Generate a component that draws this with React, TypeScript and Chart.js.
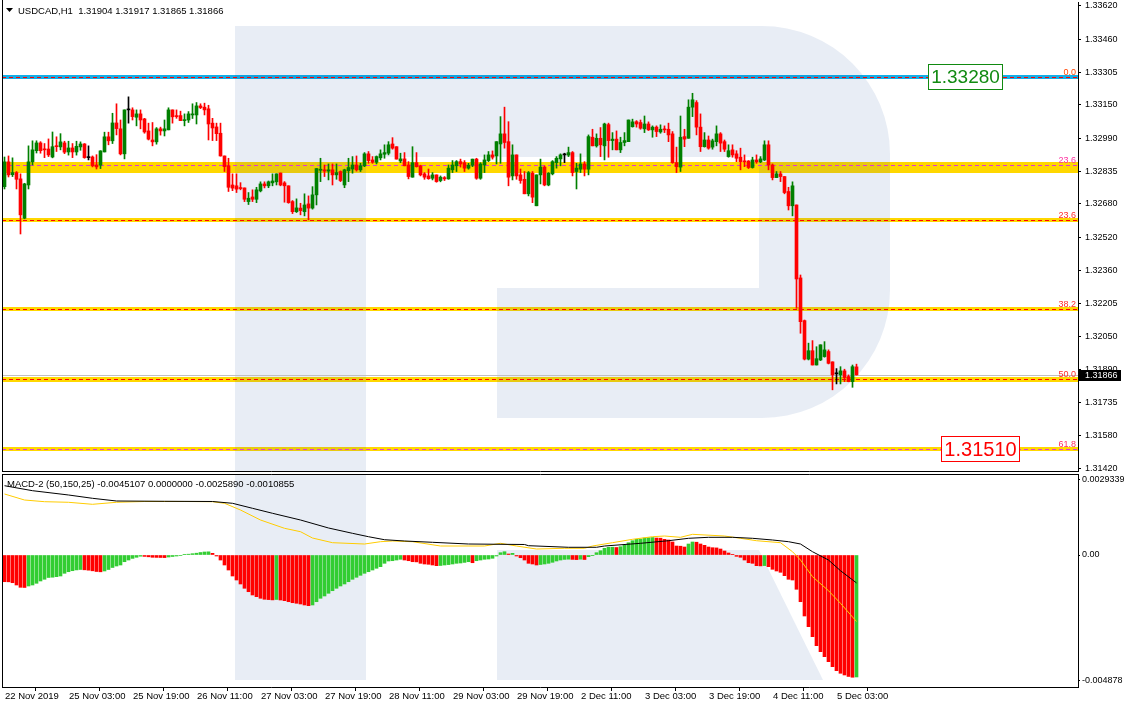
import React, { useEffect, useRef } from 'react';
import { Chart, registerables } from 'chart.js';

Chart.register(...registerables);

// ---------------- DATA ----------------
const symbolName = 'USDCAD,H1';

const opens = [
  1.32761,1.32879,1.32818,1.32828,1.32798,1.32611,1.32769,1.32879,1.32932,1.32969,
  1.32940,1.32940,1.32902,1.32955,1.32950,1.32969,1.32926,1.32945,1.32926,1.32950,
  1.32964,1.32899,1.32902,1.32864,1.32863,1.32926,1.32998,1.32979,1.33064,1.33036,
  1.32917,1.33126,1.33126,1.33091,1.33107,1.33083,1.33026,1.32983,1.32974,1.33036,
  1.33026,1.33031,1.33126,1.33097,1.33099,1.33075,1.33078,1.33102,1.33102,1.33145,
  1.33139,1.33131,1.33063,1.33045,1.33015,1.32907,1.32860,1.32769,1.32765,1.32755,
  1.32755,1.32690,1.32712,1.32701,1.32741,1.32774,1.32765,1.32779,1.32784,1.32826,
  1.32779,1.32765,1.32690,1.32642,1.32659,1.32642,1.32679,1.32659,1.32722,1.32839,
  1.32841,1.32835,1.32841,1.32817,1.32833,1.32769,1.32837,1.32845,1.32864,1.32841,
  1.32860,1.32917,1.32888,1.32877,1.32898,1.32915,1.32920,1.32964,1.32951,1.32883,
  1.32893,1.32864,1.32806,1.32875,1.32860,1.32822,1.32812,1.32801,1.32817,1.32790,
  1.32804,1.32798,1.32841,1.32860,1.32880,1.32875,1.32849,1.32863,1.32892,1.32801,
  1.32864,1.32885,1.32912,1.32907,1.32964,1.33012,1.32975,1.32812,1.32912,1.32817,
  1.32796,1.32727,1.32825,1.32670,1.32817,1.32854,1.32769,1.32822,1.32875,1.32893,
  1.32912,1.32911,1.32923,1.32833,1.32844,1.32869,1.32844,1.32996,1.32955,1.32991,
  1.32955,1.33056,1.32980,1.32987,1.32936,1.32971,1.32975,1.33046,1.33070,1.33066,
  1.33036,1.33059,1.33031,1.33044,1.33021,1.33034,1.33034,1.33012,1.32875,1.32854,
  1.32999,1.32991,1.33139,1.33161,1.33044,1.32951,1.32983,1.32949,1.32975,1.33012,
  1.32975,1.32904,1.32936,1.32917,1.32901,1.32883,1.32883,1.32852,1.32888,1.32879,
  1.32888,1.32960,1.32864,1.32804,1.32822,1.32809,1.32738,1.32670,1.32674,1.32327,
  1.32124,1.31941,1.31981,1.31913,1.31937,1.31953,1.31977,1.31928,1.31871,1.31866,
  1.31885,1.31858,1.31834,1.31904
];

const highs = [
  1.32902,1.32907,1.32898,1.32833,1.32822,1.32777,1.32955,1.32979,1.32979,1.32975,
  1.32966,1.32988,1.33021,1.32998,1.33013,1.32977,1.32977,1.32966,1.32977,1.32974,
  1.32966,1.32955,1.32907,1.32913,1.32932,1.33020,1.33020,1.33110,1.33155,1.33078,
  1.33126,1.33188,1.33136,1.33126,1.33126,1.33086,1.33063,1.33066,1.33042,1.33044,
  1.33078,1.33136,1.33126,1.33126,1.33120,1.33107,1.33118,1.33155,1.33161,1.33155,
  1.33158,1.33148,1.33086,1.33063,1.33063,1.32907,1.32896,1.32822,1.32822,1.32780,
  1.32755,1.32733,1.32746,1.32758,1.32784,1.32784,1.32788,1.32822,1.32822,1.32826,
  1.32785,1.32765,1.32695,1.32703,1.32682,1.32727,1.32717,1.32761,1.32847,1.32896,
  1.32864,1.32869,1.32869,1.32869,1.32836,1.32844,1.32896,1.32904,1.32907,1.32872,
  1.32923,1.32928,1.32904,1.32907,1.32936,1.32960,1.32975,1.32994,1.32951,1.32920,
  1.32923,1.32880,1.32951,1.32923,1.32863,1.32828,1.32845,1.32828,1.32817,1.32812,
  1.32809,1.32864,1.32885,1.32885,1.32892,1.32885,1.32872,1.32892,1.32896,1.32875,
  1.32912,1.32928,1.32931,1.32975,1.33094,1.33139,1.33070,1.32960,1.32912,1.32845,
  1.32833,1.32833,1.32833,1.32817,1.32892,1.32860,1.32828,1.32885,1.32904,1.32917,
  1.32920,1.32949,1.32928,1.32872,1.32917,1.32880,1.33007,1.33034,1.33012,1.33042,
  1.33063,1.33063,1.33018,1.33026,1.32996,1.33018,1.33078,1.33082,1.33075,1.33078,
  1.33097,1.33069,1.33050,1.33050,1.33055,1.33050,1.33063,1.33023,1.32949,1.33097,
  1.33034,1.33174,1.33205,1.33170,1.33107,1.33018,1.33002,1.32987,1.33050,1.33018,
  1.32983,1.32960,1.32960,1.32932,1.32944,1.32912,1.32885,1.32901,1.32912,1.32904,
  1.32979,1.32979,1.32869,1.32833,1.32833,1.32809,1.32758,1.32784,1.32674,1.32341,
  1.32127,1.32017,1.32029,1.32000,1.32009,1.32024,1.31985,1.31928,1.31896,1.31905,
  1.31893,1.31866,1.31913,1.31917
];

const lows = [
  1.32750,1.32807,1.32809,1.32750,1.32536,1.32608,1.32750,1.32864,1.32921,1.32920,
  1.32899,1.32904,1.32898,1.32928,1.32936,1.32918,1.32911,1.32899,1.32911,1.32934,
  1.32896,1.32888,1.32855,1.32845,1.32847,1.32926,1.32960,1.32966,1.33007,1.32912,
  1.32893,1.33063,1.33078,1.33050,1.33036,1.33015,1.32983,1.32955,1.32963,1.33006,
  1.33002,1.33031,1.33063,1.33086,1.33075,1.33050,1.33066,1.33085,1.33059,1.33132,
  1.33102,1.32983,1.32980,1.32980,1.32906,1.32833,1.32738,1.32742,1.32733,1.32746,
  1.32690,1.32676,1.32690,1.32685,1.32736,1.32755,1.32756,1.32765,1.32769,1.32765,
  1.32687,1.32682,1.32633,1.32638,1.32627,1.32622,1.32603,1.32654,1.32674,1.32785,
  1.32809,1.32793,1.32769,1.32796,1.32785,1.32756,1.32785,1.32825,1.32835,1.32833,
  1.32856,1.32872,1.32872,1.32869,1.32888,1.32896,1.32912,1.32939,1.32892,1.32875,
  1.32860,1.32798,1.32806,1.32854,1.32812,1.32796,1.32796,1.32793,1.32782,1.32784,
  1.32790,1.32796,1.32828,1.32833,1.32854,1.32833,1.32844,1.32856,1.32796,1.32796,
  1.32828,1.32880,1.32892,1.32869,1.32872,1.32944,1.32765,1.32793,1.32796,1.32777,
  1.32727,1.32717,1.32685,1.32670,1.32774,1.32765,1.32765,1.32817,1.32849,1.32860,
  1.32875,1.32904,1.32812,1.32750,1.32828,1.32812,1.32817,1.32955,1.32949,1.32904,
  1.32888,1.32901,1.32936,1.32936,1.32923,1.32955,1.32975,1.33044,1.33044,1.33034,
  1.33018,1.33028,1.32996,1.32999,1.33015,1.33018,1.32975,1.32872,1.32828,1.32833,
  1.32951,1.32991,1.33094,1.33007,1.32928,1.32949,1.32939,1.32939,1.32955,1.32928,
  1.32928,1.32901,1.32901,1.32880,1.32841,1.32856,1.32847,1.32849,1.32872,1.32875,
  1.32885,1.32841,1.32793,1.32804,1.32785,1.32727,1.32650,1.32622,1.32183,1.32064,
  1.31937,1.31937,1.31913,1.31913,1.31934,1.31950,1.31918,1.31795,1.31823,1.31823,
  1.31834,1.31833,1.31807,1.31865
];

const closes = [
  1.32879,1.32817,1.32828,1.32796,1.32627,1.32774,1.32879,1.32936,1.32969,1.32932,
  1.32936,1.32912,1.32951,1.32951,1.32974,1.32925,1.32945,1.32926,1.32953,1.32964,
  1.32899,1.32899,1.32860,1.32855,1.32931,1.32998,1.32979,1.33064,1.33037,1.32917,
  1.33126,1.33126,1.33094,1.33107,1.33078,1.33021,1.32987,1.32974,1.33036,1.33026,
  1.33036,1.33126,1.33093,1.33094,1.33075,1.33078,1.33107,1.33107,1.33145,1.33137,
  1.33126,1.33059,1.33040,1.33013,1.32907,1.32856,1.32758,1.32754,1.32749,1.32752,
  1.32701,1.32706,1.32701,1.32746,1.32774,1.32765,1.32784,1.32788,1.32822,1.32769,
  1.32765,1.32685,1.32642,1.32660,1.32647,1.32674,1.32659,1.32722,1.32847,1.32844,
  1.32835,1.32841,1.32817,1.32828,1.32790,1.32841,1.32852,1.32864,1.32841,1.32860,
  1.32917,1.32885,1.32877,1.32904,1.32917,1.32923,1.32960,1.32944,1.32892,1.32893,
  1.32860,1.32809,1.32875,1.32856,1.32817,1.32806,1.32799,1.32817,1.32785,1.32806,
  1.32798,1.32849,1.32864,1.32880,1.32869,1.32849,1.32863,1.32892,1.32801,1.32869,
  1.32888,1.32912,1.32901,1.32975,1.33012,1.32971,1.32806,1.32912,1.32812,1.32790,
  1.32727,1.32828,1.32711,1.32817,1.32854,1.32769,1.32825,1.32880,1.32896,1.32912,
  1.32912,1.32923,1.32828,1.32849,1.32869,1.32844,1.32999,1.32955,1.32991,1.32960,
  1.33059,1.32980,1.32987,1.32936,1.32971,1.32980,1.33078,1.33069,1.33059,1.33039,
  1.33059,1.33031,1.33044,1.33023,1.33034,1.33031,1.33007,1.32875,1.32856,1.32996,
  1.32987,1.33139,1.33174,1.33044,1.32951,1.32983,1.32944,1.32979,1.33012,1.32968,
  1.32939,1.32932,1.32912,1.32896,1.32880,1.32879,1.32852,1.32888,1.32879,1.32893,
  1.32960,1.32864,1.32804,1.32822,1.32809,1.32733,1.32670,1.32765,1.32322,1.32119,
  1.31941,1.31981,1.31913,1.31943,1.32009,1.31985,1.31921,1.31866,1.31871,1.31885,
  1.31853,1.31834,1.31905,1.31866
];

const timeTickBars = [0, 16, 32, 48, 64, 80, 96, 112, 128, 144, 160, 176, 192, 208];
const timeTickLabels = [
  '22 Nov 2019', '25 Nov 03:00', '25 Nov 19:00', '26 Nov 11:00', '27 Nov 03:00',
  '27 Nov 19:00', '28 Nov 11:00', '29 Nov 03:00', '29 Nov 19:00', '2 Dec 11:00',
  '3 Dec 03:00', '3 Dec 19:00', '4 Dec 11:00', '5 Dec 03:00'
];

const priceTicks = [1.3362, 1.3346, 1.33305, 1.3315, 1.3299, 1.32835, 1.3268, 1.3252,
  1.3236, 1.32205, 1.3205, 1.3189, 1.31735, 1.3158, 1.3142];

const fiboLevels = [1.33281, 1.32863, 1.32603, 1.32181, 1.31845, 1.31513];
const fiboNames = ['0.0', '23.6', '23.6', '38.2', '50.0', '61.8'];
const upperZone = [1.32879, 1.32828];
const levelTags = ['1.33280', '', '', '', '', '1.31510'];

const macdHist = [
  -0.001039,-0.001043,-0.001078,-0.001167,-0.001257,-0.001264,-0.001206,-0.001167,-0.001101,-0.001011,
  -0.000945,-0.000875,-0.000864,-0.000844,-0.000817,-0.000712,-0.00065,-0.000611,-0.00058,-0.000564,
  -0.000576,-0.000591,-0.000615,-0.000642,-0.000654,-0.000622,-0.000564,-0.000486,-0.000428,-0.000389,
  -0.000261,-0.000195,-0.000132,-0.000089,-0.000047,-0.000054,-0.00007,-0.000089,-0.000093,-0.000097,
  -0.000101,-0.000078,-0.000058,-0.000039,-0.000016,0.000012,0.000031,0.000051,0.00007,0.000097,
  0.000117,0.000124,0.000066,-0.000039,-0.000195,-0.000389,-0.000584,-0.000817,-0.000973,-0.001128,
  -0.001295,-0.001428,-0.001556,-0.001622,-0.001684,-0.001723,-0.001735,-0.001747,-0.001731,-0.001751,
  -0.001778,-0.001817,-0.001856,-0.001879,-0.001906,-0.001945,-0.001972,-0.001945,-0.001817,-0.001684,
  -0.001595,-0.00149,-0.001389,-0.001295,-0.001206,-0.001128,-0.001039,-0.000945,-0.000867,-0.00079,
  -0.000712,-0.00065,-0.000584,-0.000517,-0.000455,-0.000323,-0.000233,-0.000222,-0.000195,-0.000167,
  -0.000195,-0.000222,-0.000261,-0.000268,-0.000323,-0.00035,-0.000362,-0.000389,-0.000416,-0.000408,
  -0.000389,-0.000373,-0.00035,-0.000323,-0.000311,-0.000288,-0.000261,-0.0003,-0.000222,-0.000195,
  -0.000167,-0.000156,-0.000128,-0.000039,0.000089,0.000128,0.000039,0.000066,-0.000039,-0.000105,
  -0.000195,-0.000323,-0.00035,-0.000389,-0.00037,-0.00035,-0.000323,-0.000284,-0.000233,-0.000195,
  -0.000171,-0.000163,-0.000171,-0.000179,-0.000163,-0.000175,-0.000066,-0.000012,0.000089,0.000167,
  0.000261,0.0003,0.000303,0.000292,0.000323,0.000389,0.000478,0.000556,0.000611,0.000622,
  0.000661,0.000673,0.000681,0.000661,0.000654,0.000611,0.000584,0.000506,0.00035,0.000342,
  0.000311,0.000428,0.000506,0.000498,0.000428,0.000377,0.000311,0.000284,0.000276,0.000233,
  0.000156,0.000078,0.000012,-0.000051,-0.000089,-0.000195,-0.0003,-0.000323,-0.000416,-0.000424,
  -0.000412,-0.000455,-0.000556,-0.000622,-0.000673,-0.000805,-0.000945,-0.000973,-0.001334,-0.001817,
  -0.002373,-0.002789,-0.003178,-0.003528,-0.003762,-0.003956,-0.004151,-0.004345,-0.004501,-0.004602,
  -0.004668,-0.004726,-0.004757,-0.004746
];

const macdMainBars = [0, 7, 16, 22, 28, 40, 52, 57, 62, 67, 74, 81, 87, 91, 95, 100, 107, 116, 130, 131,
  141, 148, 150, 159, 166, 171, 176, 182, 187, 192, 196, 199, 202, 206, 209, 213];
const macdMain = [0.002696, 0.002502, 0.002335, 0.002206, 0.002101, 0.00209, 0.002082, 0.002012, 0.001817,
  0.001623, 0.001362, 0.001051, 0.000844, 0.000712, 0.000595, 0.000545, 0.000494, 0.000428, 0.000409,
  0.000362, 0.0003, 0.0003, 0.00035, 0.000455, 0.000556, 0.00065, 0.000689, 0.000689, 0.00065, 0.000584,
  0.000518, 0.000428, 0.000128, -0.000195, -0.000611, -0.001086];

const macdSignalBars = [0, 5, 10, 16, 22, 28, 35, 45, 52, 55, 59, 64, 70, 74, 77, 82, 90, 94, 97, 102, 109,
  120, 124, 128, 133, 140, 145, 147, 152, 157, 162, 165, 169, 172, 180, 184, 188, 194, 197, 199, 202, 206, 209, 213];
const macdSignal = [0.002374, 0.00214, 0.002074, 0.002051, 0.001973, 0.002051, 0.002082, 0.002082, 0.002074,
  0.002012, 0.001751, 0.001362, 0.001039, 0.000907, 0.000661, 0.000479, 0.000428, 0.000518, 0.000545,
  0.000518, 0.00035, 0.00035, 0.000455, 0.00035, 0.000233, 0.000261, 0.000261, 0.00035, 0.000479, 0.000611,
  0.000712, 0.000739, 0.000689, 0.000805, 0.000739, 0.00065, 0.000556, 0.000479, 0.000128, -0.000195,
  -0.000844, -0.001389, -0.00188, -0.002589];

const macdTicks = [0.0029339, 0, -0.004878];
const macdTickLabels = ['0.0029339', '0.00', '-0.004878'];
const macdName = 'MACD-2 (50,150,25)';
const macdTitleValues = ['-0.0045107', '0.0000000', '-0.0025890', '-0.0010855'];

// ---------------- STYLE ----------------
const FONT = "'Liberation Sans', Arial, sans-serif";
const BULL = '#008000';
const BEAR = '#ff0000';
const DOJI = '#000000';
const HIST_UP = '#32cd32';
const HIST_DOWN = '#ff0000';
const levelLineColors = ['#ff0000', '#e03ad0', '#ff0000', '#ff0000', '#ff0000', '#e03ad0'];
const levelTextColors = ['#ff4500', '#ff2fa0', '#ff2a2a', '#ff2a2a', '#ff2a2a', '#ff2a60'];
const levelBandColors = ['#14ade6', '#ffd700', '#ffd700', '#ffd700', '#ffd700', '#ffd700'];
const levelBandWidths = [4, 0, 4, 4, 5, 4];
const tagColors = ['#118a11', '', '', '', '', '#ff0000'];
const tagRight = [1003, 0, 0, 0, 0, 1020];
const tagFontSize = [19, 0, 0, 0, 0, 20];

const X_MIN = -0.625;
const X_MAX = 268.375;
const TICK_SHIFT = -0.375;
const MAIN_H = 473;
const MACD_H = 235;

function drawLogo(ctx: CanvasRenderingContext2D, top: number) {
  ctx.save();
  ctx.fillStyle = 'rgba(25,75,155,0.1)';
  ctx.fillRect(235, 26 - top, 131, 654);
  ctx.beginPath();
  ctx.moveTo(366, 26 - top);
  ctx.lineTo(762, 26 - top);
  ctx.arcTo(890, 26 - top, 890, 154 - top, 128);
  ctx.lineTo(890, 290 - top);
  ctx.arcTo(890, 418 - top, 762, 418 - top, 128);
  ctx.lineTo(497, 418 - top);
  ctx.lineTo(497, 288 - top);
  ctx.lineTo(759, 288 - top);
  ctx.lineTo(759, 157 - top);
  ctx.lineTo(366, 157 - top);
  ctx.closePath();
  ctx.fill();
  ctx.beginPath();
  ctx.moveTo(497, 550 - top);
  ctx.lineTo(759, 550 - top);
  ctx.lineTo(823, 680 - top);
  ctx.lineTo(497, 680 - top);
  ctx.closePath();
  ctx.fill();
  ctx.restore();
}

const mainDecor = {
  id: 'mainDecor',
  beforeDatasetsDraw(chart: any) {
    const { ctx, chartArea: a } = chart;
    const y = chart.scales.y;
    ctx.save();
    ctx.beginPath();
    ctx.rect(a.left, a.top, a.right - a.left, a.bottom - a.top);
    ctx.clip();
    fiboLevels.forEach((v, i) => {
      const w = levelBandWidths[i];
      if (w > 0) {
        const py = Math.round(y.getPixelForValue(v));
        ctx.fillStyle = levelBandColors[i];
        ctx.fillRect(a.left, py - Math.floor(w / 2), a.right - a.left, w);
      }
    });
    const z1 = Math.round(y.getPixelForValue(upperZone[0]));
    const z2 = Math.round(y.getPixelForValue(upperZone[1]));
    ctx.fillStyle = '#ffd700';
    ctx.fillRect(a.left, z1, a.right - a.left, z2 - z1);
    drawLogo(ctx, 0);
    const cp = Math.round(y.getPixelForValue(closes[closes.length - 1])) + 0.5;
    ctx.strokeStyle = '#c0c0c0';
    ctx.lineWidth = 1;
    ctx.beginPath();
    ctx.moveTo(a.left, cp);
    ctx.lineTo(a.right, cp);
    ctx.stroke();
    ctx.setLineDash([4, 3]);
    fiboLevels.forEach((v, i) => {
      const py = Math.round(y.getPixelForValue(v)) + 0.5;
      ctx.strokeStyle = levelLineColors[i];
      ctx.beginPath();
      ctx.moveTo(a.left, py);
      ctx.lineTo(a.right, py);
      ctx.stroke();
    });
    ctx.restore();
  },
  afterDatasetsDraw(chart: any) {
    const { ctx, chartArea: a } = chart;
    const y = chart.scales.y;
    ctx.save();
    ctx.font = `9px ${FONT}`;
    ctx.textAlign = 'right';
    ctx.textBaseline = 'alphabetic';
    fiboLevels.forEach((v, i) => {
      const py = Math.round(y.getPixelForValue(v));
      ctx.fillStyle = levelTextColors[i];
      ctx.fillText(fiboNames[i], a.right - 2, py - 2);
    });
    levelTags.forEach((t, i) => {
      if (!t) return;
      const py = Math.round(y.getPixelForValue(fiboLevels[i]));
      ctx.font = `${tagFontSize[i]}px ${FONT}`;
      const w = Math.ceil(ctx.measureText(t).width) + 6;
      const left = tagRight[i] - w;
      ctx.fillStyle = '#ffffff';
      ctx.fillRect(left, py - 13, w, 26);
      ctx.strokeStyle = tagColors[i];
      ctx.lineWidth = 1;
      ctx.strokeRect(left + 0.5, py - 12.5, w - 1, 25);
      ctx.fillStyle = tagColors[i];
      ctx.textAlign = 'center';
      ctx.textBaseline = 'middle';
      ctx.fillText(t, left + w / 2, py + 1);
    });
    // title
    ctx.fillStyle = '#000';
    ctx.beginPath();
    ctx.moveTo(6, 8);
    ctx.lineTo(13, 8);
    ctx.lineTo(9.5, 12);
    ctx.closePath();
    ctx.fill();
    const n = closes.length - 1;
    ctx.font = `9.5px ${FONT}`;
    ctx.textAlign = 'left';
    ctx.textBaseline = 'alphabetic';
    ctx.fillText(`${symbolName}  ${opens[n].toFixed(5)} ${highs[n].toFixed(5)} ${lows[n].toFixed(5)} ${closes[n].toFixed(5)}`, 18, 14);
    ctx.restore();
  },
  afterDraw(chart: any) {
    const { ctx, chartArea: a } = chart;
    const y = chart.scales.y;
    ctx.save();
    ctx.strokeStyle = '#000';
    ctx.lineWidth = 1;
    ctx.beginPath();
    ctx.moveTo(2.5, 0);
    ctx.lineTo(2.5, a.bottom + 1);
    ctx.moveTo(2, a.bottom + 0.5);
    ctx.lineTo(a.right + 1, a.bottom + 0.5);
    ctx.stroke();
    const last = closes[closes.length - 1];
    const cy = Math.round(y.getPixelForValue(last));
    ctx.fillStyle = '#000';
    ctx.fillRect(a.right, cy - 5, 43, 11);
    ctx.fillStyle = '#fff';
    ctx.font = `9px ${FONT}`;
    ctx.textAlign = 'left';
    ctx.textBaseline = 'middle';
    ctx.fillText(last.toFixed(5), a.right + 7, cy + 0.5);
    ctx.restore();
  }
};

const macdDecor = {
  id: 'macdDecor',
  beforeDatasetsDraw(chart: any) {
    const { ctx, chartArea: a } = chart;
    ctx.save();
    ctx.beginPath();
    ctx.rect(a.left, a.top, a.right - a.left, a.bottom - a.top);
    ctx.clip();
    drawLogo(ctx, MAIN_H);
    ctx.restore();
  },
  afterDraw(chart: any) {
    const { ctx, chartArea: a } = chart;
    ctx.save();
    ctx.strokeStyle = '#000';
    ctx.lineWidth = 1;
    ctx.beginPath();
    ctx.moveTo(2, 1.5);
    ctx.lineTo(a.right + 1, 1.5);
    ctx.moveTo(2.5, 1);
    ctx.lineTo(2.5, a.bottom + 1);
    ctx.stroke();
    ctx.fillStyle = '#000';
    ctx.font = `9.5px ${FONT}`;
    ctx.textAlign = 'left';
    ctx.textBaseline = 'alphabetic';
    ctx.fillText(`${macdName} ${macdTitleValues.join(' ')}`, 7, 14);
    ctx.restore();
  }
};

const fitVertical = (s: any) => {
  s.width = 46;
  s.paddingTop = 0;
  s.paddingBottom = 0;
};

export default function App() {
  const mainRef = useRef<HTMLCanvasElement>(null);
  const macdRef = useRef<HTMLCanvasElement>(null);

  useEffect(() => {
    document.body.style.margin = '0';
    Chart.defaults.font.family = FONT;
    Chart.defaults.color = '#000';
    const idx = closes.map((_, i) => i);
    const candleColors = closes.map((c, i) => (c > opens[i] ? BULL : c < opens[i] ? BEAR : DOJI));
    const histColors = macdHist.map((v, i) => (i > 0 && v > macdHist[i - 1] ? HIST_UP : HIST_DOWN));

    const mainChart = new Chart(mainRef.current as HTMLCanvasElement, {
      type: 'bar',
      data: {
        datasets: [
          {
            data: idx.map((i) => ({ x: i, y: [lows[i], highs[i]] })),
            backgroundColor: candleColors,
            barThickness: 1,
            grouped: false,
            borderWidth: 0,
            minBarLength: 1
          },
          {
            data: idx.map((i) => ({ x: i, y: [opens[i], closes[i]] })),
            backgroundColor: candleColors,
            barThickness: 3,
            grouped: false,
            borderWidth: 0,
            minBarLength: 1
          }
        ]
      } as any,
      options: {
        responsive: false,
        animation: false,
        devicePixelRatio: 1,
        events: [],
        layout: { padding: { left: 2, right: 0, top: 2, bottom: 2 } },
        plugins: { legend: { display: false }, tooltip: { enabled: false } },
        scales: {
          x: { type: 'linear', min: X_MIN, max: X_MAX, display: false, offset: false },
          y: {
            type: 'linear',
            position: 'right',
            min: 1.31409,
            max: 1.33639,
            afterBuildTicks: (s: any) => { s.ticks = priceTicks.map((v) => ({ value: v })); },
            afterFit: fitVertical,
            grid: { drawOnChartArea: false, drawTicks: true, tickLength: 3, color: '#000' },
            border: { display: true, color: '#000' },
            ticks: {
              autoSkip: false,
              padding: 4,
              color: '#000',
              font: { size: 9, family: FONT },
              callback: (v: any) => Number(v).toFixed(5)
            }
          }
        }
      } as any,
      plugins: [mainDecor]
    });

    const macdChart = new Chart(macdRef.current as HTMLCanvasElement, {
      type: 'bar',
      data: {
        datasets: [
          {
            type: 'line',
            data: macdMainBars.map((b, k) => ({ x: b, y: macdMain[k] })),
            borderColor: '#000000',
            borderWidth: 1,
            pointRadius: 0,
            tension: 0,
            order: 1
          },
          {
            type: 'line',
            data: macdSignalBars.map((b, k) => ({ x: b, y: macdSignal[k] })),
            borderColor: '#ffcc00',
            borderWidth: 1,
            pointRadius: 0,
            tension: 0,
            order: 2
          },
          {
            type: 'bar',
            data: idx.map((i) => ({ x: i, y: macdHist[i] })),
            backgroundColor: histColors,
            barThickness: 3,
            grouped: false,
            borderWidth: 0,
            order: 3
          }
        ]
      } as any,
      options: {
        responsive: false,
        animation: false,
        devicePixelRatio: 1,
        events: [],
        layout: { padding: { left: 2, right: 0, top: 2, bottom: 0 } },
        plugins: { legend: { display: false }, tooltip: { enabled: false } },
        scales: {
          x: {
            type: 'linear',
            position: 'bottom',
            min: X_MIN,
            max: X_MAX,
            offset: false,
            afterBuildTicks: (s: any) => { s.ticks = timeTickBars.map((b) => ({ value: b + TICK_SHIFT })); },
            afterFit: (s: any) => { s.height = 21; s.paddingLeft = 0; s.paddingRight = 0; },
            grid: { drawOnChartArea: false, drawTicks: true, tickLength: 4, color: '#000' },
            border: { display: true, color: '#000' },
            ticks: {
              autoSkip: false,
              maxRotation: 0,
              minRotation: 0,
              align: 'start',
              padding: 0,
              labelOffset: 2,
              color: '#000',
              font: { size: 9.5, family: FONT },
              callback: (_v: any, i: number) => timeTickLabels[i]
            }
          },
          y: {
            type: 'linear',
            position: 'right',
            min: -0.005136,
            max: 0.003113,
            afterBuildTicks: (s: any) => { s.ticks = macdTicks.map((v) => ({ value: v })); },
            afterFit: fitVertical,
            grid: { drawOnChartArea: false, drawTicks: true, tickLength: 2, color: '#000' },
            border: { display: true, color: '#000' },
            ticks: {
              autoSkip: false,
              padding: 2,
              color: '#000',
              font: { size: 9, family: FONT },
              callback: (_v: any, i: number) => macdTickLabels[i]
            }
          }
        }
      } as any,
      plugins: [macdDecor]
    });

    return () => {
      mainChart.destroy();
      macdChart.destroy();
    };
  }, []);

  return (
    <div style={{ position: 'fixed', left: 0, top: 0, width: 1124, height: 708, background: '#ffffff' }}>
      <canvas ref={mainRef} width={1124} height={MAIN_H} style={{ position: 'absolute', left: 0, top: 0 }} />
      <canvas ref={macdRef} width={1124} height={MACD_H} style={{ position: 'absolute', left: 0, top: MAIN_H }} />
    </div>
  );
}
